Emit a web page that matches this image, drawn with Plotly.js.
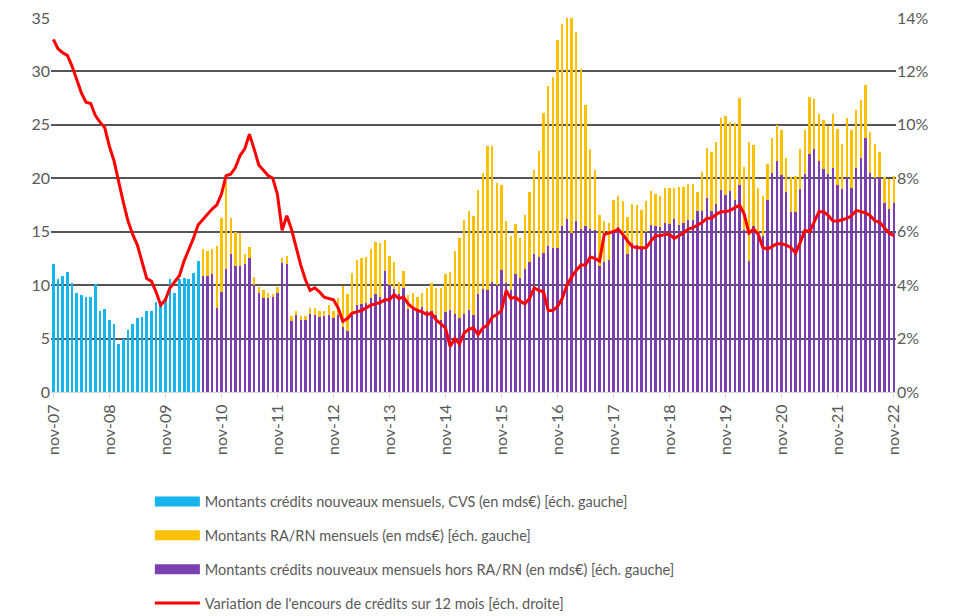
<!DOCTYPE html>
<html>
<head>
<meta charset="utf-8">
<script src="https://cdn.plot.ly/plotly-3.0.1.min.js"></script>
<style>html,body{margin:0;padding:0;background:#fff;}#chart{width:954px;height:616px;}</style>
</head>
<body>
<div id="chart"></div>
<script>
// Month labels (ticks every 12 months, nov-07 .. nov-22)
const tickLabels = ["nov-07","nov-08","nov-09","nov-10","nov-11","nov-12","nov-13","nov-14","nov-15","nov-16","nov-17","nov-18","nov-19","nov-20","nov-21","nov-22"];

// Montants crédits nouveaux mensuels, CVS (mds€) - months 0..31
const blueValues = [12.0,10.6,10.9,11.2,10.2,9.3,9.1,8.9,8.9,10.1,7.6,7.8,6.7,6.4,4.5,5.0,5.8,6.4,6.9,7.0,7.6,7.6,8.4,8.4,8.8,10.6,9.3,10.6,10.7,10.6,11.1,12.3];

// Montants crédits nouveaux hors RA/RN (mds€) - months 32..180
const purpleValues = [
10.9,10.9,11.0,7.9,9.4,11.5,12.9,11.8,11.8,12.0,12.5,10.0,9.3,8.8,8.8,8.9,9.3,12.1,12.0,6.6,
7.2,6.7,6.7,7.3,7.2,7.0,7.1,7.2,6.9,7.2,6.1,5.7,7.2,8.1,8.2,8.3,8.8,9.2,8.9,11.3,
10.0,9.6,9.2,9.7,7.8,7.8,7.7,8.0,7.6,7.6,7.2,6.7,7.5,7.7,7.3,6.9,7.3,7.7,7.2,9.2,
9.6,9.5,10.3,10.0,11.4,10.2,9.5,11.0,10.7,11.5,12.2,12.9,12.6,13.0,13.7,13.5,13.5,15.5,16.2,14.9,
16.0,15.3,15.5,15.3,15.2,11.8,12.2,12.4,15.2,15.4,14.6,12.9,13.9,13.8,13.6,15.0,15.6,15.5,15.4,15.8,
15.7,16.2,15.6,15.8,16.1,16.1,16.9,16.9,18.2,16.9,17.6,18.9,18.4,18.8,18.0,19.4,15.2,12.3,15.5,15.0,
14.6,18.0,20.5,21.6,20.3,18.7,16.8,16.8,19.0,20.4,22.3,22.7,21.6,20.9,20.4,21.0,19.4,19.0,20.1,19.1,
21.0,21.9,23.8,20.5,20.0,20.1,17.7,17.1,17.7];

// Montants RA/RN mensuels (mds€) - months 32..180
const yellowValues = [
2.5,2.3,2.4,5.8,6.9,8.2,3.4,3.2,3.1,0.9,1.1,0.8,0.5,0.7,0.5,0.3,0.5,0.4,0.7,0.5,
0.4,0.4,0.4,0.6,0.7,0.6,0.5,0.9,0.7,1.6,3.8,3.5,3.9,4.3,4.3,4.3,4.6,4.8,5.0,2.9,
2.7,2.6,1.1,1.6,1.3,1.5,1.2,1.3,2.1,2.6,2.5,3.0,3.5,3.5,5.9,7.5,8.8,9.2,9.3,9.7,
10.9,13.5,12.7,9.6,8.0,5.8,5.1,4.7,3.7,5.1,6.5,7.9,10.0,13.1,14.9,16.0,19.4,18.9,18.8,20.1,
17.7,14.9,11.4,7.4,5.6,4.8,3.8,3.4,2.8,2.9,3.3,3.5,3.7,3.7,3.4,2.9,3.2,3.0,2.9,3.3,
3.4,2.9,3.6,3.4,3.4,3.4,1.8,3.7,4.6,5.6,5.8,6.7,7.4,6.5,7.2,8.1,5.9,11.1,7.6,4.1,
3.7,3.3,3.3,3.4,4.2,3.2,3.3,3.4,3.7,4.1,5.3,4.7,4.4,4.6,4.5,5.0,5.2,4.2,5.5,5.4,
5.4,5.4,4.9,3.8,3.2,2.4,2.4,2.8,2.5];

// Variation de l'encours de crédits sur 12 mois (%) - months 0..180
const growthPct = [
13.2,12.85,12.7,12.6,12.2,11.7,11.2,10.85,10.8,10.35,10.1,9.9,9.2,8.65,7.85,7.1,6.4,5.9,5.5,4.9,4.25,4.15,3.75,3.25,3.45,3.9,4.15,4.35,4.9,5.3,
5.75,6.25,6.45,6.65,6.85,7.0,7.4,8.1,8.15,8.4,8.85,9.1,9.65,9.1,8.5,8.3,8.1,8.0,7.4,6.05,6.6,6.1,5.4,4.75,4.2,3.8,3.9,3.75,3.55,3.5,
3.45,3.15,2.65,2.75,2.95,3.0,3.05,3.15,3.25,3.3,3.35,3.45,3.45,3.65,3.5,3.55,3.3,3.15,3.05,3.0,2.9,2.95,2.7,2.55,2.4,1.7,2.0,1.8,2.2,2.35,
2.4,2.15,2.4,2.5,2.8,2.9,3.05,3.8,3.5,3.55,3.4,3.3,3.5,3.9,3.8,3.75,3.05,3.05,3.2,3.5,4.0,4.3,4.55,4.75,4.75,5.05,5.0,4.9,5.9,5.95,
6.0,6.1,5.9,5.65,5.45,5.4,5.4,5.4,5.65,5.85,5.85,5.9,5.9,5.75,5.85,5.95,6.1,6.15,6.25,6.35,6.5,6.5,6.65,6.75,6.75,6.8,6.9,7.0,6.65,5.95,
6.1,5.9,5.4,5.35,5.45,5.55,5.55,5.5,5.4,5.2,5.6,6.05,6.0,6.35,6.75,6.75,6.6,6.4,6.4,6.45,6.5,6.6,6.8,6.75,6.7,6.6,6.4,6.35,6.15,5.95,5.85];

const legendNames = [
  "Montants crédits nouveaux mensuels, CVS (en mds€) [éch. gauche]",
  "Montants RA/RN mensuels (en mds€) [éch. gauche]",
  "Montants crédits nouveaux mensuels hors RA/RN (en mds€) [éch. gauche]",
  "Variation de l'encours de crédits sur 12 mois [éch. droite]"
];
const seriesColors = ["#18B4EE", "#FFC000", "#7A3FB0", "#FF0000"];

const blueX = blueValues.map((_, i) => i);
const stackStart = blueValues.length;
const stackX = purpleValues.map((_, i) => i + stackStart);
const lineX = growthPct.map((_, i) => i);
const tickVals = tickLabels.map((_, i) => i * 12);

const traces = [
  {type:"bar", x:blueX, y:blueValues, name:legendNames[0], width:0.62,
   marker:{color:seriesColors[0]}, showlegend:false, hoverinfo:"skip"},
  {type:"bar", x:stackX, y:purpleValues, name:legendNames[2], width:0.5,
   marker:{color:seriesColors[2]}, showlegend:false, hoverinfo:"skip"},
  {type:"bar", x:stackX, y:yellowValues, name:legendNames[1], width:0.5,
   marker:{color:seriesColors[1]}, showlegend:false, hoverinfo:"skip"},
  {type:"scatter", mode:"lines", x:lineX, y:growthPct, yaxis:"y2", name:legendNames[3],
   line:{color:seriesColors[3], width:3}, legendgroup:"d", legendrank:4, hoverinfo:"skip"}
];
// legend swatches (wide rectangles like the original) for the bar series
[[0,1],[1,2],[2,3]].forEach(([k, rank]) => {
  traces.push({type:"scatter", mode:"lines", x:[null], y:[null], name:legendNames[k],
    line:{color:seriesColors[k], width:10}, legendgroup:"g"+k, legendrank:rank, hoverinfo:"skip"});
});

const tickFont = {family:"Lato, 'Open Sans', sans-serif", size:16, color:"#595959"};

const layout = {
  width:954, height:616,
  margin:{l:51, r:58, t:18, b:224, autoexpand:false},
  paper_bgcolor:"#ffffff", plot_bgcolor:"#ffffff",
  barmode:"stack",
  showlegend:true,
  hovermode:false,
  xaxis:{
    range:[-0.5, 180.5], tickmode:"array", tickvals:tickVals, ticktext:tickLabels,
    tickangle:-90, tickfont:tickFont, showgrid:false, zeroline:false,
    showline:true, linecolor:"#d9d9d9", linewidth:1,
    ticks:"outside", ticklen:5, tickcolor:"#d9d9d9"
  },
  yaxis:{
    range:[0,35], dtick:5, tickfont:tickFont, showgrid:true, gridcolor:"#555555", gridwidth:2,
    zeroline:true, zerolinecolor:"#d9d9d9", zerolinewidth:1, showline:false, ticks:""
  },
  yaxis2:{
    range:[0,14], dtick:2, ticksuffix:"%", tickfont:tickFont, overlaying:"y", side:"right",
    showgrid:false, zeroline:false, showline:false, ticks:""
  },
  legend:{
    x:0.117, y:-0.25, xanchor:"left", yanchor:"top", orientation:"v",
    font:{family:"Lato, 'Open Sans', sans-serif", size:14.5, color:"#595959"},
    itemwidth:45, tracegroupgap:12, traceorder:"grouped", bgcolor:"rgba(0,0,0,0)"
  }
};

Plotly.newPlot("chart", traces, layout, {displayModeBar:false, staticPlot:true});
</script>
</body>
</html>
